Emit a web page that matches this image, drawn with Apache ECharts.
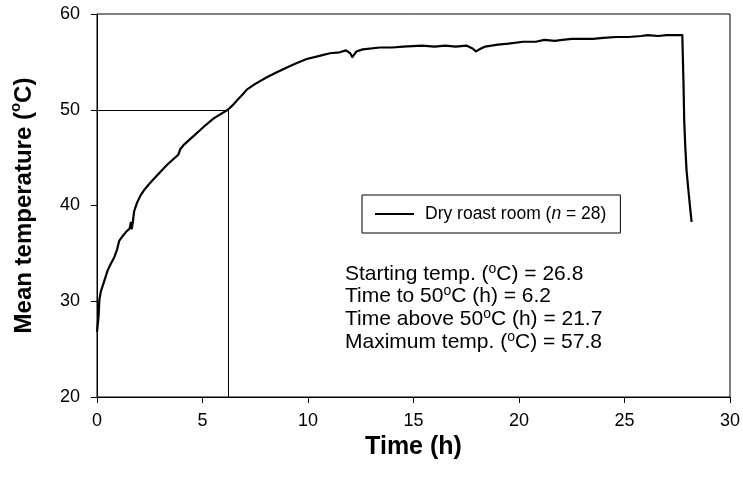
<!DOCTYPE html>
<html>
<head>
<meta charset="utf-8">
<script src="https://cdn.jsdelivr.net/npm/echarts@6/dist/echarts.min.js"></script>
<style>
  html, body { margin: 0; padding: 0; background: #fff; }
  #chart { width: 743px; height: 477px; }
</style>
</head>
<body>
<div id="chart"></div>
<script>
// Mean air temperature in the dry roast room over the heat treatment
const hours = [
  0.00, 0.04, 0.08, 0.11, 0.18, 0.27, 0.40, 0.50, 0.65, 0.82, 0.95, 1.05, 1.12, 1.25, 1.40,
  1.55, 1.60, 1.65, 1.70, 1.76, 1.90, 2.05, 2.23, 2.45, 2.70, 3.00, 3.30, 3.60, 3.85, 3.95,
  4.10, 4.40, 4.75, 5.10, 5.53, 5.90, 6.20, 6.40, 6.64, 6.90, 7.10, 7.50, 8.05, 8.50, 9.00,
  9.50, 9.94, 10.50, 11.04, 11.50, 11.80, 12.00, 12.10, 12.30, 12.60, 13.40, 14.00, 14.50,
  15.40, 16.00, 16.50, 17.00, 17.50, 17.80, 17.96, 18.20, 18.40, 19.00, 19.50, 20.20, 20.80,
  21.20, 21.70, 22.05, 22.50, 23.00, 23.50, 24.00, 24.60, 25.20, 25.80, 26.10, 26.60, 27.00,
  27.50, 27.74, 27.78, 27.80, 27.83, 27.88, 27.94, 28.02, 28.10, 28.18
];
const temps = [
  26.8, 27.0, 28.6, 30.1, 31.0, 31.6, 32.5, 33.2, 33.9, 34.6, 35.4, 36.3, 36.5, 36.9, 37.3,
  37.6, 38.2, 37.6, 38.3, 39.4, 40.3, 41.0, 41.6, 42.2, 42.8, 43.5, 44.2, 44.8, 45.3, 45.9,
  46.3, 46.9, 47.6, 48.3, 49.1, 49.6, 50.0, 50.4, 51.0, 51.6, 52.1, 52.7, 53.4, 53.9, 54.4,
  54.9, 55.3, 55.6, 55.9, 56.0, 56.2, 55.9, 55.5, 56.1, 56.3, 56.5, 56.5, 56.6,
  56.7, 56.6, 56.7, 56.6, 56.7, 56.4, 56.1, 56.4, 56.6, 56.8, 56.9, 57.1, 57.1,
  57.3, 57.2, 57.3, 57.4, 57.4, 57.4, 57.5, 57.6, 57.6, 57.7, 57.8, 57.7, 57.8,
  57.8, 57.8, 54.2, 52.4, 48.9, 46.2, 43.7, 41.8, 40.0, 38.3
];

// Time at which 50 °C was reached
const threshold = { time: 6.2, temp: 50 };

const seriesName = 'Dry roast room';
const statLines = [
  ['Starting temp. (', ') = 26.8'],
  ['Time to 50', ' (h) = 6.2'],
  ['Time above 50', ' (h) = 21.7'],
  ['Maximum temp. (', ') = 57.8']
];

const xTicks = { min: 0, max: 30, interval: 5 };
const yTicks = { min: 20, max: 60, interval: 10 };

const FONT = 'Arial, "Liberation Sans", sans-serif';

const chart = echarts.init(document.getElementById('chart'), null, { renderer: 'canvas' });

const statText = statLines.map(p => '{t|' + p[0] + '}{s|o}{t|C' + p[1] + '}').join('\n');

chart.setOption({
  animation: false,
  backgroundColor: '#fff',
  grid: {
    left: 96, top: 14, right: 11, bottom: 80,
    show: true, borderColor: '#000', borderWidth: 1
  },
  xAxis: {
    type: 'value',
    min: xTicks.min, max: xTicks.max, interval: xTicks.interval,
    name: 'Time (h)',
    nameLocation: 'middle',
    nameGap: 30,
    nameTextStyle: { fontFamily: FONT, fontSize: 25, fontWeight: 'bold', color: '#000' },
    axisLine: { show: true, onZero: false, lineStyle: { color: '#000', width: 1 } },
    axisTick: { show: true, inside: false, length: 6, lineStyle: { color: '#000' } },
    axisLabel: { fontFamily: FONT, fontSize: 18, color: '#000', margin: 15 },
    splitLine: { show: false }
  },
  yAxis: {
    type: 'value',
    min: yTicks.min, max: yTicks.max, interval: yTicks.interval,
    name: '{a|Mean temperature (}{s|o}{a|C)}',
    nameLocation: 'middle',
    nameGap: 61,
    nameRotate: 90,
    nameTextStyle: {
      fontFamily: FONT, color: '#000',
      rich: {
        a: { fontFamily: FONT, fontSize: 24, fontWeight: 'bold', color: '#000', lineHeight: 28, verticalAlign: 'bottom' },
        s: { fontFamily: FONT, fontSize: 15, fontWeight: 'bold', color: '#000', lineHeight: 28, verticalAlign: 'top' }
      }
    },
    axisLine: { show: true, lineStyle: { color: '#000', width: 1 } },
    axisTick: { show: true, inside: false, length: 6, lineStyle: { color: '#000' } },
    axisLabel: { fontFamily: FONT, fontSize: 18, color: '#000', margin: 17 },
    splitLine: { show: false }
  },
  legend: {
    left: 362, top: 195,
    orient: 'horizontal',
    padding: [10, 14, 10, 13],
    borderColor: '#000', borderWidth: 1,
    itemWidth: 39, itemHeight: 2,
    icon: 'rect',
    data: [seriesName],
    formatter: () => 'Dry roast room ({i|n} = 28)',
    textStyle: {
      fontFamily: FONT, fontSize: 17.5, color: '#000', padding: [0, 0, 0, 6],
      rich: {
        i: { fontFamily: FONT, fontSize: 17.5, fontStyle: 'italic', color: '#000' }
      }
    }
  },
  graphic: [{
    type: 'text',
    left: 345, top: 262,
    style: {
      text: statText,
      fill: '#000',
      rich: {
        t: { fontFamily: FONT, fontSize: 21, fill: '#000', lineHeight: 22.6, verticalAlign: 'bottom' },
        s: { fontFamily: FONT, fontSize: 14, fill: '#000', lineHeight: 10, verticalAlign: 'top' }
      }
    }
  }],
  series: [{
    name: seriesName,
    type: 'line',
    data: hours.map((h, i) => [h, temps[i]]),
    showSymbol: false,
    symbol: 'none',
    lineStyle: { color: '#000', width: 2.2, join: 'round' },
    itemStyle: { color: '#000' },
    markLine: {
      silent: true,
      symbol: ['none', 'none'],
      label: { show: false },
      lineStyle: { color: '#000', width: 1, type: 'solid' },
      data: [
        [{ coord: [xTicks.min, threshold.temp] }, { coord: [threshold.time, threshold.temp] }],
        [{ coord: [threshold.time, threshold.temp] }, { coord: [threshold.time, yTicks.min] }]
      ]
    }
  }]
});
</script>
</body>
</html>
